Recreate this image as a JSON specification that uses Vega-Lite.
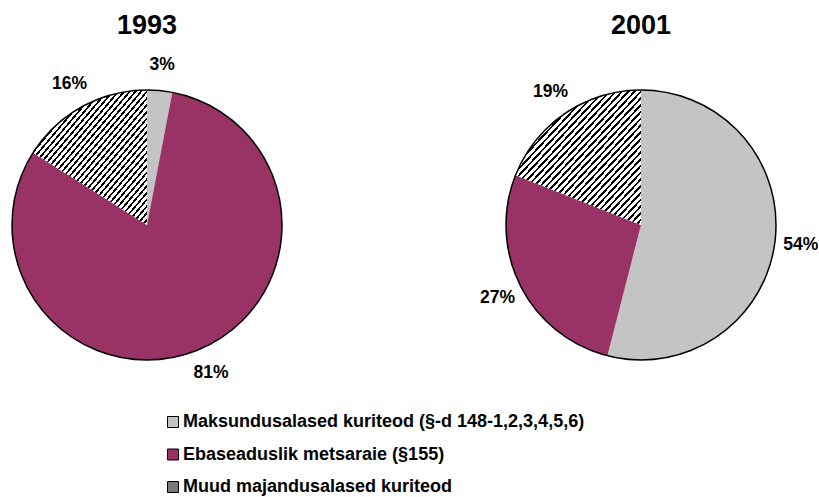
{
  "$schema": "https://vega.github.io/schema/vega-lite/v6.json",
  "padding": {"left": 9, "top": 12, "right": 5, "bottom": 2},
  "background": "white",
  "data": {"values": [
    {"year": "1993", "cat": "Maksundusalased kuriteod (§-d 148-1,2,3,4,5,6)", "ord": 1, "pct": 3, "label": "3%"},
    {"year": "1993", "cat": "Ebaseaduslik metsaraie (§155)", "ord": 2, "pct": 81, "label": "81%"},
    {"year": "1993", "cat": "Muud majandusalased kuriteod", "ord": 3, "pct": 16, "label": "16%"},
    {"year": "2001", "cat": "Maksundusalased kuriteod (§-d 148-1,2,3,4,5,6)", "ord": 1, "pct": 54, "label": "54%"},
    {"year": "2001", "cat": "Ebaseaduslik metsaraie (§155)", "ord": 2, "pct": 27, "label": "27%"},
    {"year": "2001", "cat": "Muud majandusalased kuriteod", "ord": 3, "pct": 19, "label": "19%"}
  ]},
  "facet": {
    "column": {
      "field": "year", "type": "nominal",
      "header": {"title": null, "labelFontSize": 27, "labelFontWeight": "bold", "labelFont": "Liberation Sans", "labelColor": "black", "labelPadding": 50}
    }
  },
  "spacing": 224,
  "bounds": "flush",
  "spec": {
    "width": 270,
    "height": 270,
    "encoding": {
      "theta": {"field": "pct", "type": "quantitative", "stack": true},
      "order": {"field": "ord", "type": "quantitative"}
    },
    "layer": [
      {
        "mark": {"type": "arc", "outerRadius": 135, "stroke": null},
        "encoding": {
          "fill": {
            "field": "cat", "type": "nominal",
            "condition": [
              {"test": "datum.ord === 3", "value": {"gradient": "linear", "x1": 0, "y1": 0, "x2": 1, "y2": 1, "stops": [
                {"offset": 0, "color": "#000"}, {"offset": 0.01, "color": "#000"}, {"offset": 0.01, "color": "#fff"}, {"offset": 0.025, "color": "#fff"},
                {"offset": 0.025, "color": "#000"}, {"offset": 0.035, "color": "#000"}, {"offset": 0.035, "color": "#fff"}, {"offset": 0.05, "color": "#fff"},
                {"offset": 0.05, "color": "#000"}, {"offset": 0.06, "color": "#000"}, {"offset": 0.06, "color": "#fff"}, {"offset": 0.075, "color": "#fff"},
                {"offset": 0.075, "color": "#000"}, {"offset": 0.085, "color": "#000"}, {"offset": 0.085, "color": "#fff"}, {"offset": 0.1, "color": "#fff"},
                {"offset": 0.1, "color": "#000"}, {"offset": 0.11, "color": "#000"}, {"offset": 0.11, "color": "#fff"}, {"offset": 0.125, "color": "#fff"},
                {"offset": 0.125, "color": "#000"}, {"offset": 0.135, "color": "#000"}, {"offset": 0.135, "color": "#fff"}, {"offset": 0.15, "color": "#fff"},
                {"offset": 0.15, "color": "#000"}, {"offset": 0.16, "color": "#000"}, {"offset": 0.16, "color": "#fff"}, {"offset": 0.175, "color": "#fff"},
                {"offset": 0.175, "color": "#000"}, {"offset": 0.185, "color": "#000"}, {"offset": 0.185, "color": "#fff"}, {"offset": 0.2, "color": "#fff"},
                {"offset": 0.2, "color": "#000"}, {"offset": 0.21, "color": "#000"}, {"offset": 0.21, "color": "#fff"}, {"offset": 0.225, "color": "#fff"},
                {"offset": 0.225, "color": "#000"}, {"offset": 0.235, "color": "#000"}, {"offset": 0.235, "color": "#fff"}, {"offset": 0.25, "color": "#fff"},
                {"offset": 0.25, "color": "#000"}, {"offset": 0.26, "color": "#000"}, {"offset": 0.26, "color": "#fff"}, {"offset": 0.275, "color": "#fff"},
                {"offset": 0.275, "color": "#000"}, {"offset": 0.285, "color": "#000"}, {"offset": 0.285, "color": "#fff"}, {"offset": 0.3, "color": "#fff"},
                {"offset": 0.3, "color": "#000"}, {"offset": 0.31, "color": "#000"}, {"offset": 0.31, "color": "#fff"}, {"offset": 0.325, "color": "#fff"},
                {"offset": 0.325, "color": "#000"}, {"offset": 0.335, "color": "#000"}, {"offset": 0.335, "color": "#fff"}, {"offset": 0.35, "color": "#fff"},
                {"offset": 0.35, "color": "#000"}, {"offset": 0.36, "color": "#000"}, {"offset": 0.36, "color": "#fff"}, {"offset": 0.375, "color": "#fff"},
                {"offset": 0.375, "color": "#000"}, {"offset": 0.385, "color": "#000"}, {"offset": 0.385, "color": "#fff"}, {"offset": 0.4, "color": "#fff"},
                {"offset": 0.4, "color": "#000"}, {"offset": 0.41, "color": "#000"}, {"offset": 0.41, "color": "#fff"}, {"offset": 0.425, "color": "#fff"},
                {"offset": 0.425, "color": "#000"}, {"offset": 0.435, "color": "#000"}, {"offset": 0.435, "color": "#fff"}, {"offset": 0.45, "color": "#fff"},
                {"offset": 0.45, "color": "#000"}, {"offset": 0.46, "color": "#000"}, {"offset": 0.46, "color": "#fff"}, {"offset": 0.475, "color": "#fff"},
                {"offset": 0.475, "color": "#000"}, {"offset": 0.485, "color": "#000"}, {"offset": 0.485, "color": "#fff"}, {"offset": 0.5, "color": "#fff"},
                {"offset": 0.5, "color": "#000"}, {"offset": 0.51, "color": "#000"}, {"offset": 0.51, "color": "#fff"}, {"offset": 0.525, "color": "#fff"},
                {"offset": 0.525, "color": "#000"}, {"offset": 0.535, "color": "#000"}, {"offset": 0.535, "color": "#fff"}, {"offset": 0.55, "color": "#fff"},
                {"offset": 0.55, "color": "#000"}, {"offset": 0.56, "color": "#000"}, {"offset": 0.56, "color": "#fff"}, {"offset": 0.575, "color": "#fff"},
                {"offset": 0.575, "color": "#000"}, {"offset": 0.585, "color": "#000"}, {"offset": 0.585, "color": "#fff"}, {"offset": 0.6, "color": "#fff"},
                {"offset": 0.6, "color": "#000"}, {"offset": 0.61, "color": "#000"}, {"offset": 0.61, "color": "#fff"}, {"offset": 0.625, "color": "#fff"},
                {"offset": 0.625, "color": "#000"}, {"offset": 0.635, "color": "#000"}, {"offset": 0.635, "color": "#fff"}, {"offset": 0.65, "color": "#fff"},
                {"offset": 0.65, "color": "#000"}, {"offset": 0.66, "color": "#000"}, {"offset": 0.66, "color": "#fff"}, {"offset": 0.675, "color": "#fff"},
                {"offset": 0.675, "color": "#000"}, {"offset": 0.685, "color": "#000"}, {"offset": 0.685, "color": "#fff"}, {"offset": 0.7, "color": "#fff"},
                {"offset": 0.7, "color": "#000"}, {"offset": 0.71, "color": "#000"}, {"offset": 0.71, "color": "#fff"}, {"offset": 0.725, "color": "#fff"},
                {"offset": 0.725, "color": "#000"}, {"offset": 0.735, "color": "#000"}, {"offset": 0.735, "color": "#fff"}, {"offset": 0.75, "color": "#fff"},
                {"offset": 0.75, "color": "#000"}, {"offset": 0.76, "color": "#000"}, {"offset": 0.76, "color": "#fff"}, {"offset": 0.775, "color": "#fff"},
                {"offset": 0.775, "color": "#000"}, {"offset": 0.785, "color": "#000"}, {"offset": 0.785, "color": "#fff"}, {"offset": 0.8, "color": "#fff"},
                {"offset": 0.8, "color": "#000"}, {"offset": 0.81, "color": "#000"}, {"offset": 0.81, "color": "#fff"}, {"offset": 0.825, "color": "#fff"},
                {"offset": 0.825, "color": "#000"}, {"offset": 0.835, "color": "#000"}, {"offset": 0.835, "color": "#fff"}, {"offset": 0.85, "color": "#fff"},
                {"offset": 0.85, "color": "#000"}, {"offset": 0.86, "color": "#000"}, {"offset": 0.86, "color": "#fff"}, {"offset": 0.875, "color": "#fff"},
                {"offset": 0.875, "color": "#000"}, {"offset": 0.885, "color": "#000"}, {"offset": 0.885, "color": "#fff"}, {"offset": 0.9, "color": "#fff"},
                {"offset": 0.9, "color": "#000"}, {"offset": 0.91, "color": "#000"}, {"offset": 0.91, "color": "#fff"}, {"offset": 0.925, "color": "#fff"},
                {"offset": 0.925, "color": "#000"}, {"offset": 0.935, "color": "#000"}, {"offset": 0.935, "color": "#fff"}, {"offset": 0.95, "color": "#fff"},
                {"offset": 0.95, "color": "#000"}, {"offset": 0.96, "color": "#000"}, {"offset": 0.96, "color": "#fff"}, {"offset": 0.975, "color": "#fff"},
                {"offset": 0.975, "color": "#000"}, {"offset": 0.985, "color": "#000"}, {"offset": 0.985, "color": "#fff"}, {"offset": 1, "color": "#fff"}
              ]}}
            ],
            "scale": {
              "domain": ["Maksundusalased kuriteod (§-d 148-1,2,3,4,5,6)", "Ebaseaduslik metsaraie (§155)", "Muud majandusalased kuriteod"],
              "range": ["#c4c4c4", "#993366", "#7a7a7a"]
            },
            "legend": {
              "orient": "none", "legendX": 152, "legendY": 323, "title": null, "direction": "vertical",
              "symbolType": "square", "symbolSize": 121, "symbolStrokeColor": "black", "symbolStrokeWidth": 1, "symbolOpacity": 1,
              "labelFontSize": 18, "labelFontWeight": "bold", "labelFont": "Liberation Sans", "labelColor": "black",
              "rowPadding": 14.5, "labelOffset": 1, "labelLimit": 700
            }
          }
        }
      },
      {
        "transform": [{"filter": "datum.ord === 1"}],
        "mark": {"type": "arc", "theta": 0, "theta2": 6.2832, "outerRadius": 135, "filled": false, "stroke": "black", "strokeWidth": 1.5},
        "encoding": {"theta": null, "order": null}
      },
      {
        "mark": {"type": "text", "radius": 161, "fontSize": 17.5, "fontWeight": "bold", "font": "Liberation Sans", "color": "black"},
        "encoding": {"text": {"field": "label", "type": "nominal"}}
      }
    ]
  },
  "config": {"view": {"stroke": null}}
}
